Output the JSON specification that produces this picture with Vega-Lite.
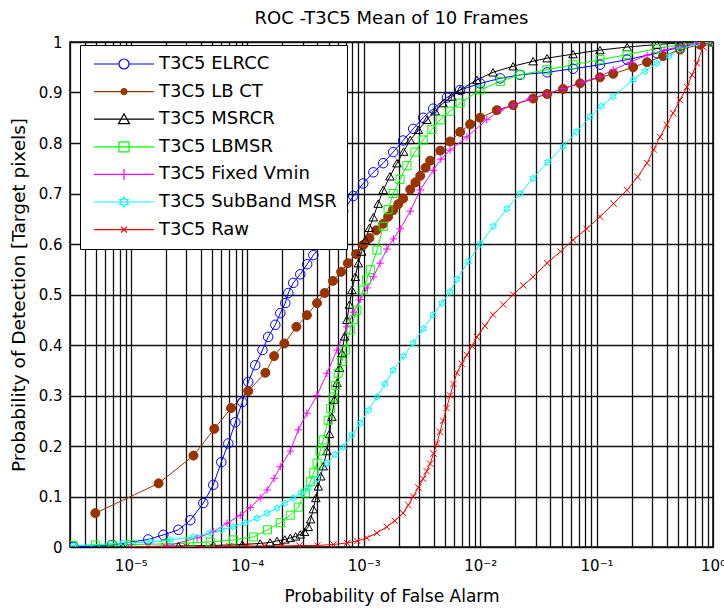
{
  "$schema": "https://vega.github.io/schema/vega-lite/v6.json",
  "width": 643,
  "height": 505,
  "autosize": {"type": "none"},
  "padding": {"left": 70, "top": 42, "right": 11, "bottom": 63},
  "background": "white",
  "title": {"text": "ROC -T3C5 Mean of 10 Frames", "fontSize": 18, "font": "DejaVu Sans", "fontWeight": "normal", "color": "black", "offset": 7},
  "data": {"values": [
    {"s":"T3C5 ELRCC","x":3.2e-6,"y":0},
    {"s":"T3C5 ELRCC","x":6.9e-6,"y":0.004},
    {"s":"T3C5 ELRCC","x":1.41e-5,"y":0.015},
    {"s":"T3C5 ELRCC","x":1.9e-5,"y":0.024},
    {"s":"T3C5 ELRCC","x":2.56e-5,"y":0.034},
    {"s":"T3C5 ELRCC","x":3.24e-5,"y":0.053},
    {"s":"T3C5 ELRCC","x":4.19e-5,"y":0.087},
    {"s":"T3C5 ELRCC","x":5.1e-5,"y":0.123},
    {"s":"T3C5 ELRCC","x":5.98e-5,"y":0.168},
    {"s":"T3C5 ELRCC","x":6.87e-5,"y":0.205},
    {"s":"T3C5 ELRCC","x":7.89e-5,"y":0.247},
    {"s":"T3C5 ELRCC","x":9.06e-5,"y":0.287},
    {"s":"T3C5 ELRCC","x":1.02e-4,"y":0.327},
    {"s":"T3C5 ELRCC","x":1.17e-4,"y":0.36},
    {"s":"T3C5 ELRCC","x":1.35e-4,"y":0.39},
    {"s":"T3C5 ELRCC","x":1.51e-4,"y":0.416},
    {"s":"T3C5 ELRCC","x":1.74e-4,"y":0.44},
    {"s":"T3C5 ELRCC","x":1.92e-4,"y":0.463},
    {"s":"T3C5 ELRCC","x":2.12e-4,"y":0.483},
    {"s":"T3C5 ELRCC","x":2.25e-4,"y":0.503},
    {"s":"T3C5 ELRCC","x":2.48e-4,"y":0.523},
    {"s":"T3C5 ELRCC","x":2.85e-4,"y":0.54},
    {"s":"T3C5 ELRCC","x":3.27e-4,"y":0.56},
    {"s":"T3C5 ELRCC","x":3.69e-4,"y":0.578},
    {"s":"T3C5 ELRCC","x":4.49e-4,"y":0.6},
    {"s":"T3C5 ELRCC","x":5.47e-4,"y":0.63},
    {"s":"T3C5 ELRCC","x":6.67e-4,"y":0.665},
    {"s":"T3C5 ELRCC","x":8.13e-4,"y":0.695},
    {"s":"T3C5 ELRCC","x":9.9e-4,"y":0.72},
    {"s":"T3C5 ELRCC","x":1.21e-3,"y":0.742},
    {"s":"T3C5 ELRCC","x":1.47e-3,"y":0.76},
    {"s":"T3C5 ELRCC","x":1.79e-3,"y":0.782},
    {"s":"T3C5 ELRCC","x":2.18e-3,"y":0.805},
    {"s":"T3C5 ELRCC","x":2.66e-3,"y":0.828},
    {"s":"T3C5 ELRCC","x":3.24e-3,"y":0.85},
    {"s":"T3C5 ELRCC","x":3.95e-3,"y":0.868},
    {"s":"T3C5 ELRCC","x":5.18e-3,"y":0.89},
    {"s":"T3C5 ELRCC","x":6.73e-3,"y":0.905},
    {"s":"T3C5 ELRCC","x":1e-2,"y":0.918},
    {"s":"T3C5 ELRCC","x":1.49e-2,"y":0.928},
    {"s":"T3C5 ELRCC","x":2.2e-2,"y":0.935},
    {"s":"T3C5 ELRCC","x":3.76e-2,"y":0.94},
    {"s":"T3C5 ELRCC","x":6.28e-2,"y":0.947},
    {"s":"T3C5 ELRCC","x":0.107,"y":0.955},
    {"s":"T3C5 ELRCC","x":0.183,"y":0.965},
    {"s":"T3C5 ELRCC","x":0.33,"y":0.978},
    {"s":"T3C5 ELRCC","x":0.521,"y":0.99},
    {"s":"T3C5 ELRCC","x":0.773,"y":0.997},
    {"s":"T3C5 ELRCC","x":1,"y":1},

    {"s":"T3C5 LB CT","x":4.95e-6,"y":0.067},
    {"s":"T3C5 LB CT","x":1.73e-5,"y":0.126},
    {"s":"T3C5 LB CT","x":3.45e-5,"y":0.181},
    {"s":"T3C5 LB CT","x":5.21e-5,"y":0.234},
    {"s":"T3C5 LB CT","x":7.25e-5,"y":0.275},
    {"s":"T3C5 LB CT","x":1.02e-4,"y":0.309},
    {"s":"T3C5 LB CT","x":1.43e-4,"y":0.345},
    {"s":"T3C5 LB CT","x":1.7e-4,"y":0.378},
    {"s":"T3C5 LB CT","x":2.08e-4,"y":0.403},
    {"s":"T3C5 LB CT","x":2.64e-4,"y":0.436},
    {"s":"T3C5 LB CT","x":3.25e-4,"y":0.459},
    {"s":"T3C5 LB CT","x":3.97e-4,"y":0.483},
    {"s":"T3C5 LB CT","x":4.61e-4,"y":0.503},
    {"s":"T3C5 LB CT","x":5.44e-4,"y":0.527},
    {"s":"T3C5 LB CT","x":6.4e-4,"y":0.545},
    {"s":"T3C5 LB CT","x":7.3e-4,"y":0.562},
    {"s":"T3C5 LB CT","x":8.6e-4,"y":0.58},
    {"s":"T3C5 LB CT","x":9.9e-4,"y":0.598},
    {"s":"T3C5 LB CT","x":1.12e-3,"y":0.612},
    {"s":"T3C5 LB CT","x":1.28e-3,"y":0.627},
    {"s":"T3C5 LB CT","x":1.47e-3,"y":0.64},
    {"s":"T3C5 LB CT","x":1.62e-3,"y":0.654},
    {"s":"T3C5 LB CT","x":1.79e-3,"y":0.667},
    {"s":"T3C5 LB CT","x":1.98e-3,"y":0.679},
    {"s":"T3C5 LB CT","x":2.18e-3,"y":0.69},
    {"s":"T3C5 LB CT","x":2.51e-3,"y":0.708},
    {"s":"T3C5 LB CT","x":2.78e-3,"y":0.722},
    {"s":"T3C5 LB CT","x":3.06e-3,"y":0.735},
    {"s":"T3C5 LB CT","x":3.4e-3,"y":0.751},
    {"s":"T3C5 LB CT","x":3.72e-3,"y":0.765},
    {"s":"T3C5 LB CT","x":4.54e-3,"y":0.785},
    {"s":"T3C5 LB CT","x":5.52e-3,"y":0.803},
    {"s":"T3C5 LB CT","x":6.73e-3,"y":0.822},
    {"s":"T3C5 LB CT","x":8.2e-3,"y":0.837},
    {"s":"T3C5 LB CT","x":1e-2,"y":0.85},
    {"s":"T3C5 LB CT","x":1.39e-2,"y":0.865},
    {"s":"T3C5 LB CT","x":1.92e-2,"y":0.875},
    {"s":"T3C5 LB CT","x":2.85e-2,"y":0.888},
    {"s":"T3C5 LB CT","x":3.76e-2,"y":0.897},
    {"s":"T3C5 LB CT","x":5.15e-2,"y":0.907},
    {"s":"T3C5 LB CT","x":7.21e-2,"y":0.918},
    {"s":"T3C5 LB CT","x":0.107,"y":0.93},
    {"s":"T3C5 LB CT","x":0.139,"y":0.937},
    {"s":"T3C5 LB CT","x":0.206,"y":0.95},
    {"s":"T3C5 LB CT","x":0.271,"y":0.96},
    {"s":"T3C5 LB CT","x":0.372,"y":0.972},
    {"s":"T3C5 LB CT","x":0.521,"y":0.985},
    {"s":"T3C5 LB CT","x":0.773,"y":0.995},
    {"s":"T3C5 LB CT","x":1,"y":1},

    {"s":"T3C5 MSRCR","x":8.6e-6,"y":0},
    {"s":"T3C5 MSRCR","x":2.56e-5,"y":0.002},
    {"s":"T3C5 MSRCR","x":5.1e-5,"y":0.003},
    {"s":"T3C5 MSRCR","x":9.06e-5,"y":0.005},
    {"s":"T3C5 MSRCR","x":1.29e-4,"y":0.007},
    {"s":"T3C5 MSRCR","x":1.57e-4,"y":0.009},
    {"s":"T3C5 MSRCR","x":1.8e-4,"y":0.012},
    {"s":"T3C5 MSRCR","x":2.1e-4,"y":0.015},
    {"s":"T3C5 MSRCR","x":2.34e-4,"y":0.018},
    {"s":"T3C5 MSRCR","x":2.6e-4,"y":0.021},
    {"s":"T3C5 MSRCR","x":2.85e-4,"y":0.025},
    {"s":"T3C5 MSRCR","x":3.1e-4,"y":0.03},
    {"s":"T3C5 MSRCR","x":3.34e-4,"y":0.04},
    {"s":"T3C5 MSRCR","x":3.5e-4,"y":0.055},
    {"s":"T3C5 MSRCR","x":3.69e-4,"y":0.075},
    {"s":"T3C5 MSRCR","x":3.88e-4,"y":0.097},
    {"s":"T3C5 MSRCR","x":4.07e-4,"y":0.12},
    {"s":"T3C5 MSRCR","x":4.28e-4,"y":0.14},
    {"s":"T3C5 MSRCR","x":4.49e-4,"y":0.16},
    {"s":"T3C5 MSRCR","x":4.83e-4,"y":0.19},
    {"s":"T3C5 MSRCR","x":5.08e-4,"y":0.224},
    {"s":"T3C5 MSRCR","x":5.33e-4,"y":0.258},
    {"s":"T3C5 MSRCR","x":5.6e-4,"y":0.292},
    {"s":"T3C5 MSRCR","x":5.89e-4,"y":0.325},
    {"s":"T3C5 MSRCR","x":6.2e-4,"y":0.355},
    {"s":"T3C5 MSRCR","x":6.5e-4,"y":0.384},
    {"s":"T3C5 MSRCR","x":6.84e-4,"y":0.417},
    {"s":"T3C5 MSRCR","x":7.18e-4,"y":0.45},
    {"s":"T3C5 MSRCR","x":7.55e-4,"y":0.48},
    {"s":"T3C5 MSRCR","x":7.92e-4,"y":0.509},
    {"s":"T3C5 MSRCR","x":8.45e-4,"y":0.535},
    {"s":"T3C5 MSRCR","x":8.98e-4,"y":0.562},
    {"s":"T3C5 MSRCR","x":9.6e-4,"y":0.585},
    {"s":"T3C5 MSRCR","x":1.03e-3,"y":0.608},
    {"s":"T3C5 MSRCR","x":1.12e-3,"y":0.632},
    {"s":"T3C5 MSRCR","x":1.21e-3,"y":0.653},
    {"s":"T3C5 MSRCR","x":1.33e-3,"y":0.68},
    {"s":"T3C5 MSRCR","x":1.47e-3,"y":0.707},
    {"s":"T3C5 MSRCR","x":1.68e-3,"y":0.734},
    {"s":"T3C5 MSRCR","x":1.93e-3,"y":0.76},
    {"s":"T3C5 MSRCR","x":2.2e-3,"y":0.783},
    {"s":"T3C5 MSRCR","x":2.51e-3,"y":0.806},
    {"s":"T3C5 MSRCR","x":2.95e-3,"y":0.826},
    {"s":"T3C5 MSRCR","x":3.49e-3,"y":0.846},
    {"s":"T3C5 MSRCR","x":4.1e-3,"y":0.863},
    {"s":"T3C5 MSRCR","x":4.81e-3,"y":0.879},
    {"s":"T3C5 MSRCR","x":5.7e-3,"y":0.892},
    {"s":"T3C5 MSRCR","x":6.73e-3,"y":0.905},
    {"s":"T3C5 MSRCR","x":9.37e-3,"y":0.925},
    {"s":"T3C5 MSRCR","x":1.29e-2,"y":0.94},
    {"s":"T3C5 MSRCR","x":1.92e-2,"y":0.952},
    {"s":"T3C5 MSRCR","x":2.85e-2,"y":0.962},
    {"s":"T3C5 MSRCR","x":3.76e-2,"y":0.968},
    {"s":"T3C5 MSRCR","x":6.28e-2,"y":0.976},
    {"s":"T3C5 MSRCR","x":0.107,"y":0.984},
    {"s":"T3C5 MSRCR","x":0.183,"y":0.99},
    {"s":"T3C5 MSRCR","x":0.33,"y":0.995},
    {"s":"T3C5 MSRCR","x":0.521,"y":0.998},
    {"s":"T3C5 MSRCR","x":1,"y":1},

    {"s":"T3C5 LBMSR","x":3.2e-6,"y":0.003},
    {"s":"T3C5 LBMSR","x":4.95e-6,"y":0.004},
    {"s":"T3C5 LBMSR","x":6.9e-6,"y":0.004},
    {"s":"T3C5 LBMSR","x":1e-5,"y":0.005},
    {"s":"T3C5 LBMSR","x":2e-5,"y":0.006},
    {"s":"T3C5 LBMSR","x":3.2e-5,"y":0.008},
    {"s":"T3C5 LBMSR","x":4.81e-5,"y":0.01},
    {"s":"T3C5 LBMSR","x":7.58e-5,"y":0.014},
    {"s":"T3C5 LBMSR","x":1.13e-4,"y":0.02},
    {"s":"T3C5 LBMSR","x":1.49e-4,"y":0.034},
    {"s":"T3C5 LBMSR","x":1.92e-4,"y":0.048},
    {"s":"T3C5 LBMSR","x":2.34e-4,"y":0.063},
    {"s":"T3C5 LBMSR","x":2.74e-4,"y":0.079},
    {"s":"T3C5 LBMSR","x":3.15e-4,"y":0.107},
    {"s":"T3C5 LBMSR","x":3.48e-4,"y":0.129},
    {"s":"T3C5 LBMSR","x":3.72e-4,"y":0.147},
    {"s":"T3C5 LBMSR","x":3.97e-4,"y":0.166},
    {"s":"T3C5 LBMSR","x":4.22e-4,"y":0.19},
    {"s":"T3C5 LBMSR","x":4.49e-4,"y":0.212},
    {"s":"T3C5 LBMSR","x":4.95e-4,"y":0.251},
    {"s":"T3C5 LBMSR","x":5.2e-4,"y":0.274},
    {"s":"T3C5 LBMSR","x":5.47e-4,"y":0.297},
    {"s":"T3C5 LBMSR","x":5.75e-4,"y":0.32},
    {"s":"T3C5 LBMSR","x":6.04e-4,"y":0.344},
    {"s":"T3C5 LBMSR","x":6.5e-4,"y":0.367},
    {"s":"T3C5 LBMSR","x":6.94e-4,"y":0.39},
    {"s":"T3C5 LBMSR","x":7.66e-4,"y":0.43},
    {"s":"T3C5 LBMSR","x":8.2e-4,"y":0.45},
    {"s":"T3C5 LBMSR","x":8.75e-4,"y":0.469},
    {"s":"T3C5 LBMSR","x":9.9e-4,"y":0.509},
    {"s":"T3C5 LBMSR","x":1.06e-3,"y":0.529},
    {"s":"T3C5 LBMSR","x":1.14e-3,"y":0.549},
    {"s":"T3C5 LBMSR","x":1.3e-3,"y":0.588},
    {"s":"T3C5 LBMSR","x":1.47e-3,"y":0.635},
    {"s":"T3C5 LBMSR","x":1.62e-3,"y":0.668},
    {"s":"T3C5 LBMSR","x":1.79e-3,"y":0.7},
    {"s":"T3C5 LBMSR","x":2.05e-3,"y":0.728},
    {"s":"T3C5 LBMSR","x":2.35e-3,"y":0.755},
    {"s":"T3C5 LBMSR","x":2.75e-3,"y":0.782},
    {"s":"T3C5 LBMSR","x":3.24e-3,"y":0.806},
    {"s":"T3C5 LBMSR","x":3.85e-3,"y":0.827},
    {"s":"T3C5 LBMSR","x":4.54e-3,"y":0.846},
    {"s":"T3C5 LBMSR","x":5.5e-3,"y":0.863},
    {"s":"T3C5 LBMSR","x":6.73e-3,"y":0.879},
    {"s":"T3C5 LBMSR","x":1e-2,"y":0.905},
    {"s":"T3C5 LBMSR","x":1.49e-2,"y":0.922},
    {"s":"T3C5 LBMSR","x":2.2e-2,"y":0.935},
    {"s":"T3C5 LBMSR","x":3.76e-2,"y":0.945},
    {"s":"T3C5 LBMSR","x":6.28e-2,"y":0.955},
    {"s":"T3C5 LBMSR","x":0.107,"y":0.965},
    {"s":"T3C5 LBMSR","x":0.183,"y":0.975},
    {"s":"T3C5 LBMSR","x":0.33,"y":0.987},
    {"s":"T3C5 LBMSR","x":0.521,"y":0.995},
    {"s":"T3C5 LBMSR","x":1,"y":1},

    {"s":"T3C5 Fixed Vmin","x":1e-5,"y":0},
    {"s":"T3C5 Fixed Vmin","x":2.05e-5,"y":0.002},
    {"s":"T3C5 Fixed Vmin","x":3.7e-5,"y":0.018},
    {"s":"T3C5 Fixed Vmin","x":5.1e-5,"y":0.03},
    {"s":"T3C5 Fixed Vmin","x":6.7e-5,"y":0.047},
    {"s":"T3C5 Fixed Vmin","x":8.71e-5,"y":0.063},
    {"s":"T3C5 Fixed Vmin","x":1.06e-4,"y":0.078},
    {"s":"T3C5 Fixed Vmin","x":1.29e-4,"y":0.097},
    {"s":"T3C5 Fixed Vmin","x":1.48e-4,"y":0.113},
    {"s":"T3C5 Fixed Vmin","x":1.7e-4,"y":0.136},
    {"s":"T3C5 Fixed Vmin","x":1.92e-4,"y":0.159},
    {"s":"T3C5 Fixed Vmin","x":2.34e-4,"y":0.19},
    {"s":"T3C5 Fixed Vmin","x":2.74e-4,"y":0.232},
    {"s":"T3C5 Fixed Vmin","x":3.25e-4,"y":0.265},
    {"s":"T3C5 Fixed Vmin","x":3.97e-4,"y":0.3},
    {"s":"T3C5 Fixed Vmin","x":4.83e-4,"y":0.344},
    {"s":"T3C5 Fixed Vmin","x":5.89e-4,"y":0.39},
    {"s":"T3C5 Fixed Vmin","x":7.18e-4,"y":0.436},
    {"s":"T3C5 Fixed Vmin","x":8.2e-4,"y":0.465},
    {"s":"T3C5 Fixed Vmin","x":9.33e-4,"y":0.49},
    {"s":"T3C5 Fixed Vmin","x":1.07e-3,"y":0.513},
    {"s":"T3C5 Fixed Vmin","x":1.21e-3,"y":0.535},
    {"s":"T3C5 Fixed Vmin","x":1.38e-3,"y":0.562},
    {"s":"T3C5 Fixed Vmin","x":1.58e-3,"y":0.59},
    {"s":"T3C5 Fixed Vmin","x":1.8e-3,"y":0.61},
    {"s":"T3C5 Fixed Vmin","x":2.06e-3,"y":0.63},
    {"s":"T3C5 Fixed Vmin","x":2.51e-3,"y":0.665},
    {"s":"T3C5 Fixed Vmin","x":3.06e-3,"y":0.707},
    {"s":"T3C5 Fixed Vmin","x":3.95e-3,"y":0.746},
    {"s":"T3C5 Fixed Vmin","x":4.6e-3,"y":0.768},
    {"s":"T3C5 Fixed Vmin","x":5.52e-3,"y":0.786},
    {"s":"T3C5 Fixed Vmin","x":7.69e-3,"y":0.812},
    {"s":"T3C5 Fixed Vmin","x":1.14e-2,"y":0.846},
    {"s":"T3C5 Fixed Vmin","x":1.49e-2,"y":0.865},
    {"s":"T3C5 Fixed Vmin","x":1.92e-2,"y":0.875},
    {"s":"T3C5 Fixed Vmin","x":2.7e-2,"y":0.888},
    {"s":"T3C5 Fixed Vmin","x":3.76e-2,"y":0.897},
    {"s":"T3C5 Fixed Vmin","x":5.15e-2,"y":0.908},
    {"s":"T3C5 Fixed Vmin","x":7.5e-2,"y":0.92},
    {"s":"T3C5 Fixed Vmin","x":0.107,"y":0.932},
    {"s":"T3C5 Fixed Vmin","x":0.139,"y":0.945},
    {"s":"T3C5 Fixed Vmin","x":0.195,"y":0.96},
    {"s":"T3C5 Fixed Vmin","x":0.271,"y":0.974},
    {"s":"T3C5 Fixed Vmin","x":0.38,"y":0.984},
    {"s":"T3C5 Fixed Vmin","x":0.521,"y":0.991},
    {"s":"T3C5 Fixed Vmin","x":0.729,"y":0.998},
    {"s":"T3C5 Fixed Vmin","x":1,"y":1},

    {"s":"T3C5 SubBand MSR","x":3.2e-6,"y":0.002},
    {"s":"T3C5 SubBand MSR","x":8.6e-6,"y":0.008},
    {"s":"T3C5 SubBand MSR","x":1.47e-5,"y":0.01},
    {"s":"T3C5 SubBand MSR","x":2.18e-5,"y":0.014},
    {"s":"T3C5 SubBand MSR","x":3.44e-5,"y":0.02},
    {"s":"T3C5 SubBand MSR","x":4.81e-5,"y":0.028},
    {"s":"T3C5 SubBand MSR","x":6e-5,"y":0.034},
    {"s":"T3C5 SubBand MSR","x":7.58e-5,"y":0.04},
    {"s":"T3C5 SubBand MSR","x":9.6e-5,"y":0.048},
    {"s":"T3C5 SubBand MSR","x":1.21e-4,"y":0.057},
    {"s":"T3C5 SubBand MSR","x":1.48e-4,"y":0.067},
    {"s":"T3C5 SubBand MSR","x":1.8e-4,"y":0.077},
    {"s":"T3C5 SubBand MSR","x":2.1e-4,"y":0.087},
    {"s":"T3C5 SubBand MSR","x":2.48e-4,"y":0.097},
    {"s":"T3C5 SubBand MSR","x":2.9e-4,"y":0.107},
    {"s":"T3C5 SubBand MSR","x":3.34e-4,"y":0.117},
    {"s":"T3C5 SubBand MSR","x":3.97e-4,"y":0.135},
    {"s":"T3C5 SubBand MSR","x":4.83e-4,"y":0.166},
    {"s":"T3C5 SubBand MSR","x":5.7e-4,"y":0.183},
    {"s":"T3C5 SubBand MSR","x":6.67e-4,"y":0.198},
    {"s":"T3C5 SubBand MSR","x":7.9e-4,"y":0.222},
    {"s":"T3C5 SubBand MSR","x":9.33e-4,"y":0.245},
    {"s":"T3C5 SubBand MSR","x":1.1e-3,"y":0.271},
    {"s":"T3C5 SubBand MSR","x":1.3e-3,"y":0.297},
    {"s":"T3C5 SubBand MSR","x":1.52e-3,"y":0.323},
    {"s":"T3C5 SubBand MSR","x":1.79e-3,"y":0.35},
    {"s":"T3C5 SubBand MSR","x":2.2e-3,"y":0.378},
    {"s":"T3C5 SubBand MSR","x":2.66e-3,"y":0.404},
    {"s":"T3C5 SubBand MSR","x":3.25e-3,"y":0.432},
    {"s":"T3C5 SubBand MSR","x":3.95e-3,"y":0.46},
    {"s":"T3C5 SubBand MSR","x":4.7e-3,"y":0.483},
    {"s":"T3C5 SubBand MSR","x":5.52e-3,"y":0.505},
    {"s":"T3C5 SubBand MSR","x":6.31e-3,"y":0.53},
    {"s":"T3C5 SubBand MSR","x":7.9e-3,"y":0.565},
    {"s":"T3C5 SubBand MSR","x":1e-2,"y":0.6},
    {"s":"T3C5 SubBand MSR","x":1.3e-2,"y":0.635},
    {"s":"T3C5 SubBand MSR","x":1.7e-2,"y":0.67},
    {"s":"T3C5 SubBand MSR","x":2.2e-2,"y":0.7},
    {"s":"T3C5 SubBand MSR","x":2.85e-2,"y":0.73},
    {"s":"T3C5 SubBand MSR","x":3.8e-2,"y":0.762},
    {"s":"T3C5 SubBand MSR","x":5.15e-2,"y":0.793},
    {"s":"T3C5 SubBand MSR","x":6.7e-2,"y":0.822},
    {"s":"T3C5 SubBand MSR","x":8.79e-2,"y":0.852},
    {"s":"T3C5 SubBand MSR","x":0.11,"y":0.873},
    {"s":"T3C5 SubBand MSR","x":0.139,"y":0.892},
    {"s":"T3C5 SubBand MSR","x":0.206,"y":0.925},
    {"s":"T3C5 SubBand MSR","x":0.26,"y":0.942},
    {"s":"T3C5 SubBand MSR","x":0.33,"y":0.958},
    {"s":"T3C5 SubBand MSR","x":0.42,"y":0.972},
    {"s":"T3C5 SubBand MSR","x":0.521,"y":0.985},
    {"s":"T3C5 SubBand MSR","x":0.729,"y":0.998},
    {"s":"T3C5 SubBand MSR","x":1,"y":1},

    {"s":"T3C5 Raw","x":9.9e-6,"y":0},
    {"s":"T3C5 Raw","x":1.4e-5,"y":0.001},
    {"s":"T3C5 Raw","x":2e-5,"y":0.001},
    {"s":"T3C5 Raw","x":3e-5,"y":0.001},
    {"s":"T3C5 Raw","x":5e-5,"y":0.001},
    {"s":"T3C5 Raw","x":7e-5,"y":0.002},
    {"s":"T3C5 Raw","x":1e-4,"y":0.002},
    {"s":"T3C5 Raw","x":1.4e-4,"y":0.002},
    {"s":"T3C5 Raw","x":2e-4,"y":0.002},
    {"s":"T3C5 Raw","x":2.8e-4,"y":0.003},
    {"s":"T3C5 Raw","x":4e-4,"y":0.003},
    {"s":"T3C5 Raw","x":5.5e-4,"y":0.005},
    {"s":"T3C5 Raw","x":7.18e-4,"y":0.008},
    {"s":"T3C5 Raw","x":8.8e-4,"y":0.012},
    {"s":"T3C5 Raw","x":1.06e-3,"y":0.018},
    {"s":"T3C5 Raw","x":1.3e-3,"y":0.028},
    {"s":"T3C5 Raw","x":1.58e-3,"y":0.04},
    {"s":"T3C5 Raw","x":1.85e-3,"y":0.052},
    {"s":"T3C5 Raw","x":2.18e-3,"y":0.067},
    {"s":"T3C5 Raw","x":2.42e-3,"y":0.083},
    {"s":"T3C5 Raw","x":2.66e-3,"y":0.1},
    {"s":"T3C5 Raw","x":2.95e-3,"y":0.118},
    {"s":"T3C5 Raw","x":3.24e-3,"y":0.135},
    {"s":"T3C5 Raw","x":3.48e-3,"y":0.15},
    {"s":"T3C5 Raw","x":3.72e-3,"y":0.165},
    {"s":"T3C5 Raw","x":3.98e-3,"y":0.185},
    {"s":"T3C5 Raw","x":4.25e-3,"y":0.205},
    {"s":"T3C5 Raw","x":4.52e-3,"y":0.228},
    {"s":"T3C5 Raw","x":4.81e-3,"y":0.25},
    {"s":"T3C5 Raw","x":5.15e-3,"y":0.275},
    {"s":"T3C5 Raw","x":5.52e-3,"y":0.3},
    {"s":"T3C5 Raw","x":5.9e-3,"y":0.323},
    {"s":"T3C5 Raw","x":6.31e-3,"y":0.345},
    {"s":"T3C5 Raw","x":6.95e-3,"y":0.363},
    {"s":"T3C5 Raw","x":7.69e-3,"y":0.38},
    {"s":"T3C5 Raw","x":8.5e-3,"y":0.398},
    {"s":"T3C5 Raw","x":9.37e-3,"y":0.416},
    {"s":"T3C5 Raw","x":1.1e-2,"y":0.438},
    {"s":"T3C5 Raw","x":1.29e-2,"y":0.46},
    {"s":"T3C5 Raw","x":1.58e-2,"y":0.48},
    {"s":"T3C5 Raw","x":1.92e-2,"y":0.5},
    {"s":"T3C5 Raw","x":2.35e-2,"y":0.518},
    {"s":"T3C5 Raw","x":2.85e-2,"y":0.535},
    {"s":"T3C5 Raw","x":3.76e-2,"y":0.562},
    {"s":"T3C5 Raw","x":4.9e-2,"y":0.585},
    {"s":"T3C5 Raw","x":6.28e-2,"y":0.608},
    {"s":"T3C5 Raw","x":8.2e-2,"y":0.63},
    {"s":"T3C5 Raw","x":0.107,"y":0.654},
    {"s":"T3C5 Raw","x":0.14,"y":0.68},
    {"s":"T3C5 Raw","x":0.183,"y":0.707},
    {"s":"T3C5 Raw","x":0.225,"y":0.733},
    {"s":"T3C5 Raw","x":0.271,"y":0.76},
    {"s":"T3C5 Raw","x":0.31,"y":0.787},
    {"s":"T3C5 Raw","x":0.351,"y":0.812},
    {"s":"T3C5 Raw","x":0.4,"y":0.836},
    {"s":"T3C5 Raw","x":0.454,"y":0.859},
    {"s":"T3C5 Raw","x":0.52,"y":0.885},
    {"s":"T3C5 Raw","x":0.598,"y":0.911},
    {"s":"T3C5 Raw","x":0.66,"y":0.935},
    {"s":"T3C5 Raw","x":0.729,"y":0.958},
    {"s":"T3C5 Raw","x":0.82,"y":0.99},
    {"s":"T3C5 Raw","x":1,"y":1}
  ]},
  "encoding": {
    "x": {
      "field": "x", "type": "quantitative",
      "scale": {"type": "log", "domain": [3.0e-6, 1], "nice": false, "zero": false},
      "axis": {
        "title": "Probability of False Alarm",
        "titleFontSize": 17,
        "values": [3e-6,4e-6,5e-6,6e-6,7e-6,8e-6,9e-6,1e-5,2e-5,3e-5,4e-5,5e-5,6e-5,7e-5,8e-5,9e-5,1e-4,2e-4,3e-4,4e-4,5e-4,6e-4,7e-4,8e-4,9e-4,1e-3,2e-3,3e-3,4e-3,5e-3,6e-3,7e-3,8e-3,9e-3,1e-2,2e-2,3e-2,4e-2,5e-2,6e-2,7e-2,8e-2,9e-2,0.1,0.2,0.3,0.4,0.5,0.6,0.7,0.8,0.9,1],
        "labelExpr": "abs(log(datum.value)/LN10 - round(log(datum.value)/LN10)) > 0.000001 ? '' : (round(log(datum.value)/LN10) == 0 ? '10⁰' : '10⁻' + ['', '¹', '²', '³', '⁴', '⁵', '⁶'][-round(log(datum.value)/LN10)])",
        "labelOverlap": false,
        "labelFlush": false,
        "labelPadding": 11,
        "titlePadding": 15
      }
    },
    "y": {
      "field": "y", "type": "quantitative",
      "scale": {"domain": [0, 1], "nice": false},
      "axis": {
        "title": "Probability of Detection [Target pixels]",
        "titleFontSize": 18.5,
        "values": [0,0.1,0.2,0.3,0.4,0.5,0.6,0.7,0.8,0.9,1],
        "labelExpr": "datum.value == 0 ? '0' : datum.value == 1 ? '1' : format(datum.value, '.1f')",
        "labelFlush": false,
        "labelPadding": 8,
        "titlePadding": 10
      }
    }
  },
  "layer": [
    {
      "mark": {"type": "line", "strokeWidth": 1, "clip": true},
      "encoding": {
        "order": {"field": "x", "type": "quantitative"},
        "color": {
          "field": "s", "type": "nominal",
          "scale": {
            "domain": ["T3C5 ELRCC","T3C5 LB CT","T3C5 MSRCR","T3C5 LBMSR","T3C5 Fixed Vmin","T3C5 SubBand MSR","T3C5 Raw"],
            "range": ["#0000FF","#993300","#000000","#00FF00","#FF00FF","#00FFFF","#FF0000"]
          },
          "legend": null
        }
      }
    },
    {
      "mark": {"type": "point", "filled": false, "strokeWidth": 1, "opacity": 1, "clip": true},
      "encoding": {
        "color": {
          "field": "s", "type": "nominal",
          "scale": {
            "domain": ["T3C5 ELRCC","T3C5 LB CT","T3C5 MSRCR","T3C5 LBMSR","T3C5 Fixed Vmin","T3C5 SubBand MSR","T3C5 Raw"],
            "range": ["#0000FF","#993300","#000000","#00FF00","#FF00FF","#00FFFF","#FF0000"]
          },
          "legend": null
        },
        "shape": {
          "field": "s", "type": "nominal",
          "scale": {
            "domain": ["T3C5 ELRCC","T3C5 LB CT","T3C5 MSRCR","T3C5 LBMSR","T3C5 Fixed Vmin","T3C5 SubBand MSR","T3C5 Raw"],
            "range": ["circle","circle","triangle-up","square","M-1,0L1,0M0,-1L0,1","M0,-1L0.29,-0.5L0.87,-0.5L0.58,0L0.87,0.5L0.29,0.5L0,1L-0.29,0.5L-0.87,0.5L-0.58,0L-0.87,-0.5L-0.29,-0.5Z","M-1,-1L1,1M-1,1L1,-1"]
          },
          "legend": null
        },
        "size": {
          "field": "s", "type": "nominal",
          "scale": {
            "domain": ["T3C5 ELRCC","T3C5 LB CT","T3C5 MSRCR","T3C5 LBMSR","T3C5 Fixed Vmin","T3C5 SubBand MSR","T3C5 Raw"],
            "range": [90, 40, 80, 110, 140, 75, 30]
          },
          "legend": null
        },
        "fill": {
          "condition": {"test": "datum.s === 'T3C5 LB CT'", "value": "#993300"},
          "value": "transparent"
        }
      }
    },
    {
      "mark": {"type": "point", "filled": false, "strokeWidth": 1.2, "opacity": 0},
      "encoding": {
        "color": {
          "field": "s", "type": "nominal",
          "scale": {
            "domain": ["T3C5 ELRCC","T3C5 LB CT","T3C5 MSRCR","T3C5 LBMSR","T3C5 Fixed Vmin","T3C5 SubBand MSR","T3C5 Raw"],
            "range": ["#0000FF","#993300","#000000","#00FF00","#FF00FF","#00FFFF","#FF0000"]
          },
          "legend": {"title": null}
        },
        "shape": {
          "field": "s", "type": "nominal",
          "scale": {
            "domain": ["T3C5 ELRCC","T3C5 LB CT","T3C5 MSRCR","T3C5 LBMSR","T3C5 Fixed Vmin","T3C5 SubBand MSR","T3C5 Raw"],
            "range": [
              "M-6,0L-1,0M1,0L6,0M1,0A1,1,0,1,1,-1,0A1,1,0,1,1,1,0",
              "M-6,0L6,0M0.6,0A0.6,0.6,0,1,1,-0.6,0A0.6,0.6,0,1,1,0.6,0M0.38,0A0.38,0.38,0,1,1,-0.38,0A0.38,0.38,0,1,1,0.38,0M0.15,0A0.15,0.15,0,1,1,-0.15,0A0.15,0.15,0,1,1,0.15,0",
              "M-6,0L6,0M0,-1.1L1.1,0.9L-1.1,0.9Z",
              "M-6,0L6,0M-1,-1L1,-1L1,1L-1,1Z",
              "M-6,0L6,0M0,-1.1L0,1.1",
              "M-6,0L6,0M0,-1L0.29,-0.5L0.87,-0.5L0.58,0L0.87,0.5L0.29,0.5L0,1L-0.29,0.5L-0.87,0.5L-0.58,0L-0.87,-0.5L-0.29,-0.5Z",
              "M-6,0L6,0M-0.6,-0.6L0.6,0.6M-0.6,0.6L0.6,-0.6"
            ]
          },
          "legend": {"title": null}
        }
      }
    }
  ],
  "resolve": {
    "scale": {"shape": "independent", "size": "independent", "color": "independent"},
    "legend": {"shape": "independent", "color": "independent"}
  },
  "config": {
    "view": {"stroke": "black", "strokeWidth": 1.5},
    "font": "DejaVu Sans",
    "legend": {
      "orient": "none",
      "legendX": 10,
      "legendY": 3,
      "fillColor": "white",
      "strokeColor": "black",
      "padding": 10,
      "labelFont": "DejaVu Sans",
      "labelFontSize": 18,
      "labelColor": "black",
      "labelLimit": 400,
      "symbolSize": 100,
      "symbolOffset": 25,
      "labelOffset": 26,
      "rowPadding": 9.6,
      "symbolStrokeWidth": 1.2,
      "symbolOpacity": 1,
      "symbolFillColor": "transparent"
    },
    "axis": {
      "grid": true,
      "gridColor": "#111111",
      "gridWidth": 1.3,
      "gridOpacity": 1,
      "domain": false,
      "ticks": false,
      "labelFont": "DejaVu Sans",
      "labelFontSize": 15,
      "labelColor": "black",
      "titleFont": "DejaVu Sans",
      "titleFontSize": 15,
      "titleFontWeight": "normal",
      "titleColor": "black"
    }
  }
}
